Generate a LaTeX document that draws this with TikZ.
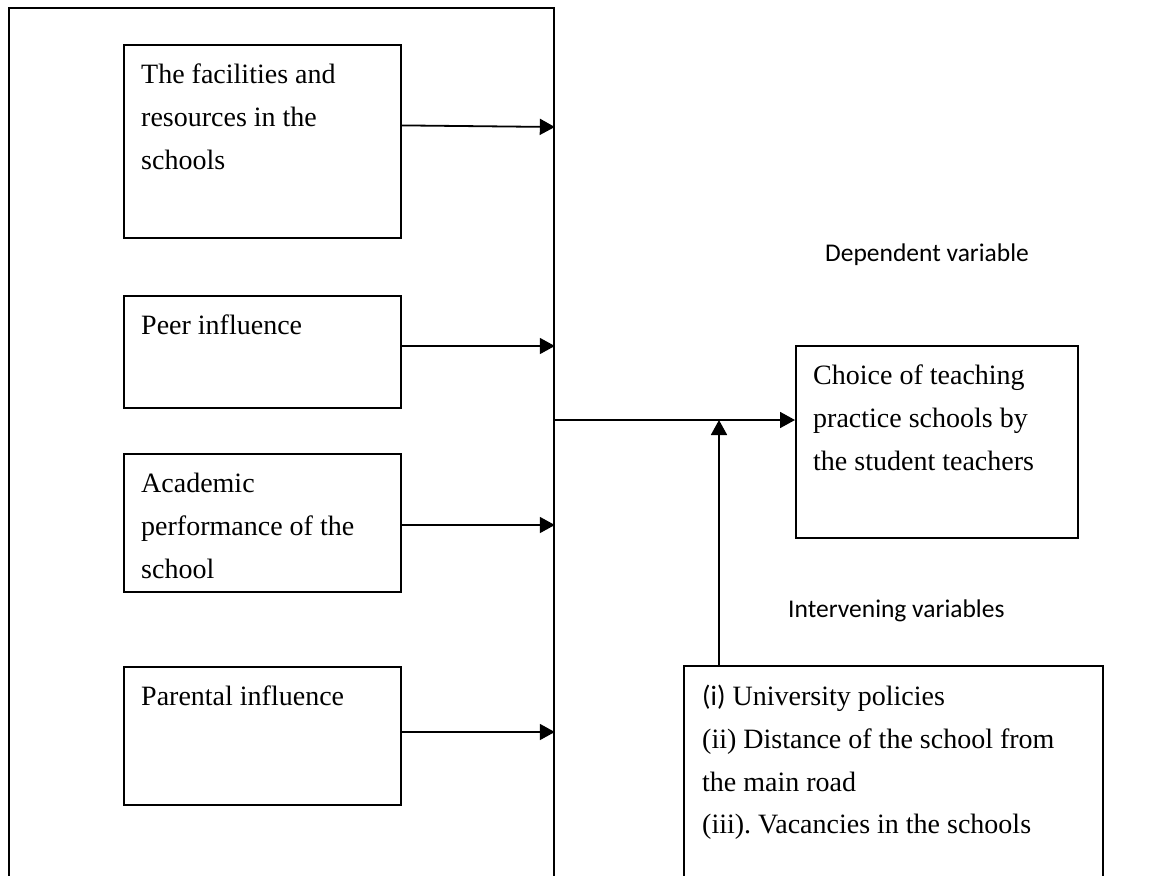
\documentclass[tikz,border=0pt]{standalone}
\usepackage{fontspec}
\setmainfont{Liberation Serif}
\newfontfamily\calibri{Carlito}
\usetikzlibrary{arrows.meta}
\frenchspacing

\tikzset{
  vbox/.style={draw, line width=1.8pt, anchor=north west, inner sep=0pt},
  txt/.style={anchor=north west, inner sep=0pt, align=left, font=\fontsize{28}{42.7}\selectfont},
  lbl/.style={anchor=base west, inner sep=0pt, font=\calibri\fontsize{25.5}{30}\selectfont},
  arr/.style={line width=1.8pt, -{Triangle[length=15pt,width=16pt]}},
}

\begin{document}
\begin{tikzpicture}[x=1pt,y=-1pt]
    \useasboundingbox (0,0) rectangle (1168,876);
    \clip (0,0) rectangle (1168,876);
    % independent variables
    \node[vbox, minimum width=545pt, minimum height=900pt] (frame) at (8,7) {};
    \node[vbox, minimum width=277pt, minimum height=193pt] (fac) at (123,44) {};
    \node[txt] (factxt) at ([shift={(18,20)}]fac.north west) {The facilities and\\resources in the\\schools};
    \node[vbox, minimum width=277pt, minimum height=112pt] (peer) at (123,295) {};
    \node[txt] (peertxt) at ([shift={(18,20)}]peer.north west) {Peer influence};
    \node[vbox, minimum width=277pt, minimum height=138pt] (acad) at (123,453) {};
    \node[txt] (acadtxt) at ([shift={(18,20)}]acad.north west) {Academic\\performance of the\\school};
    \node[vbox, minimum width=277pt, minimum height=138pt] (par) at (123,666) {};
    \node[txt] (partxt) at ([shift={(18,20)}]par.north west) {Parental influence};
    % dependent and intervening
    \node[lbl] (deplbl) at (825,261) {Dependent variable};
    \node[vbox, minimum width=282pt, minimum height=192pt] (choice) at (795,345) {};
    \node[txt] (choicetxt) at ([shift={(18,20)}]choice.north west) {Choice of teaching\\practice schools by\\the student teachers};
    \node[lbl] (intlbl) at (788,617) {Intervening variables};
    \node[vbox, minimum width=419pt, minimum height=300pt] (interv) at (683,665) {};
    \node[txt] (intervtxt) at ([shift={(19,20)}]interv.north west) {{\calibri (i)} University policies\\(ii) Distance of the school from\\the main road\\(iii). Vacancies in the schools};
    % arrows
    \draw[arr] ([yshift=16pt]fac.east) -- (frame.east |- 0,127);
    \draw[arr] (peer.east |- 0,346) -- (frame.east |- 0,346);
    \draw[arr] (acad.east |- 0,525) -- (frame.east |- 0,525);
    \draw[arr] (par.east |- 0,732) -- (frame.east |- 0,732);
    \coordinate (join) at (719,420);
    \draw[arr] (frame.east |- join) -- (choice.west |- join);
    \draw[arr] (interv.north -| join) -- (join);
\end{tikzpicture}
\end{document}
